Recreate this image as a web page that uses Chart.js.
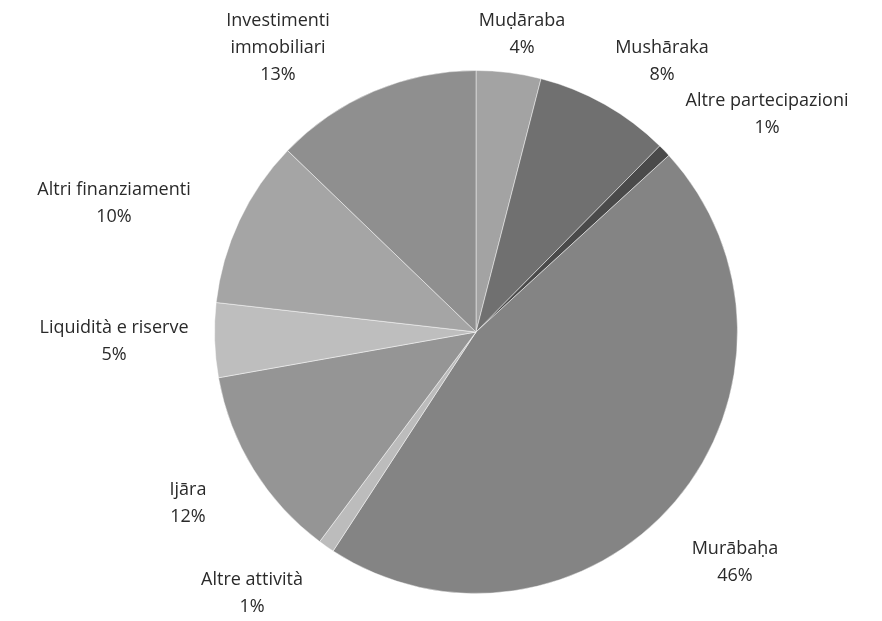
<!DOCTYPE html>
<html>
<head>
<meta charset="utf-8">
<script src="https://cdn.jsdelivr.net/npm/chart.js@4/dist/chart.umd.min.js"></script>
<style>
  html, body { margin: 0; padding: 0; background: #ffffff; }
  #wrap { width: 882px; height: 621px; position: relative; }
</style>
</head>
<body>
<div id="wrap"><canvas id="c" width="882" height="621"></canvas></div>
<script>
// Categories (clockwise from 12 o'clock)
const categories = [
  ["Muḍāraba"],
  ["Mushāraka"],
  ["Altre partecipazioni"],
  ["Murābaḥa"],
  ["Altre attività"],
  ["Ijāra"],
  ["Liquidità e riserve"],
  ["Altri finanziamenti"],
  ["Investimenti", "immobiliari"]
];
// Shares (%)
const shares = [4.0, 8.4, 0.8, 46.0, 1.0, 12.0, 4.6, 10.4, 12.8];
// Slice colours
const sliceColors = ["#a3a3a3", "#707070", "#4a4a4a", "#848484", "#bcbcbc", "#959595", "#bebebe", "#a5a5a5", "#8f8f8f"];
// Label anchor offsets relative to pie centre (layout only)
const labelOffsets = [[46,-298],[186,-271],[291,-218],[259,230],[-224,261],[-288,171],[-362,9],[-362,-129],[-198,-284]];

const labelPlugin = {
  id: 'sliceLabels',
  afterDatasetsDraw(chart) {
    const ctx = chart.ctx;
    const meta = chart.getDatasetMeta(0);
    const data = chart.data.datasets[0].data;
    const total = data.reduce((a, b) => a + b, 0);
    ctx.save();
    ctx.font = '18px "Open Sans", "Noto Sans", sans-serif';
    ctx.fillStyle = '#2a2a2a';
    ctx.textAlign = 'center';
    ctx.textBaseline = 'middle';
    const lh = 27;
    meta.data.forEach((arc, i) => {
      const cx = arc.x + labelOffsets[i][0];
      const cy = arc.y + labelOffsets[i][1];
      const lines = categories[i].concat([Math.round(data[i] / total * 100) + '%']);
      const top = cy - (lines.length - 1) * lh / 2;
      lines.forEach((t, k) => ctx.fillText(t, cx, top + k * lh));
    });
    ctx.restore();
  }
};

new Chart(document.getElementById('c'), {
  type: 'pie',
  data: {
    labels: categories.map(c => c.join(' ')),
    datasets: [{
      data: shares,
      backgroundColor: sliceColors,
      borderColor: 'rgba(255,255,255,0.45)',
      borderWidth: 1
    }]
  },
  options: {
    responsive: false,
    animation: false,
    layout: { padding: { top: 70, bottom: 27, left: 170, right: 100 } },
    plugins: { legend: { display: false }, tooltip: { enabled: false } }
  },
  plugins: [labelPlugin]
});
</script>
</body>
</html>
